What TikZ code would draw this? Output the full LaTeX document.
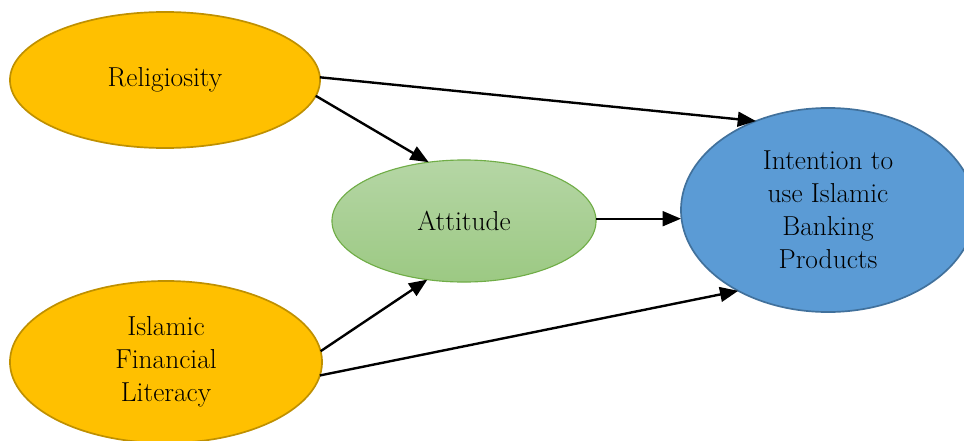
\documentclass[tikz,border=0pt]{standalone}
\usetikzlibrary{shapes.geometric,arrows.meta}
\begin{document}
\begin{tikzpicture}[x=0.025cm,y=-0.025cm,
  lbl/.style={font=\fontsize{19.5}{23.5}\selectfont, align=center, text=black},
  orangeell/.style={ellipse, fill={rgb,255:red,255;green,192;blue,0}, draw={rgb,255:red,191;green,144;blue,0}, line width=1.2pt, inner sep=0pt, outer sep=0pt, lbl},
  greenell/.style={ellipse, top color={rgb,255:red,181;green,214;blue,165}, bottom color={rgb,255:red,156;green,201;blue,131}, draw={rgb,255:red,112;green,173;blue,71}, line width=0.8pt, inner sep=0pt, outer sep=0pt, lbl},
  blueell/.style={ellipse, fill={rgb,255:red,91;green,155;blue,213}, draw={rgb,255:red,65;green,113;blue,156}, line width=1.2pt, inner sep=0pt, outer sep=0pt, lbl},
  conn/.style={line width=1.7pt, -{Triangle[length=13pt,width=10.5pt]}}
]
\clip (0,0) rectangle (964,440);
\fill[white] (0,0) rectangle (964,440);
\node[orangeell, minimum width=7.75cm, minimum height=3.4cm] (rel) at (165,80) {Religiosity};
\node[orangeell, minimum width=7.8cm, minimum height=4.05cm] (ifl) at (166,362) {Islamic\\Financial\\Literacy};
\node[greenell, minimum width=6.6cm, minimum height=3.05cm] (att) at (464,221) {Attitude};
\node[blueell, minimum width=7.35cm, minimum height=5.1cm] (int) at (828,210) {Intention to\\use Islamic\\Banking\\Products};
\coordinate (attout) at (att.1.7);
\draw[conn] (rel.1.1) -- (int.129.4);
\draw[conn] (rel.-6.8) -- (att.121.4);
\draw[conn] (ifl.4.5) -- (att.238.6);
\draw[conn] (ifl.-5.6) -- (int.222.9);
\draw[conn] (attout) -- (attout -| int.west);
\end{tikzpicture}
\end{document}
